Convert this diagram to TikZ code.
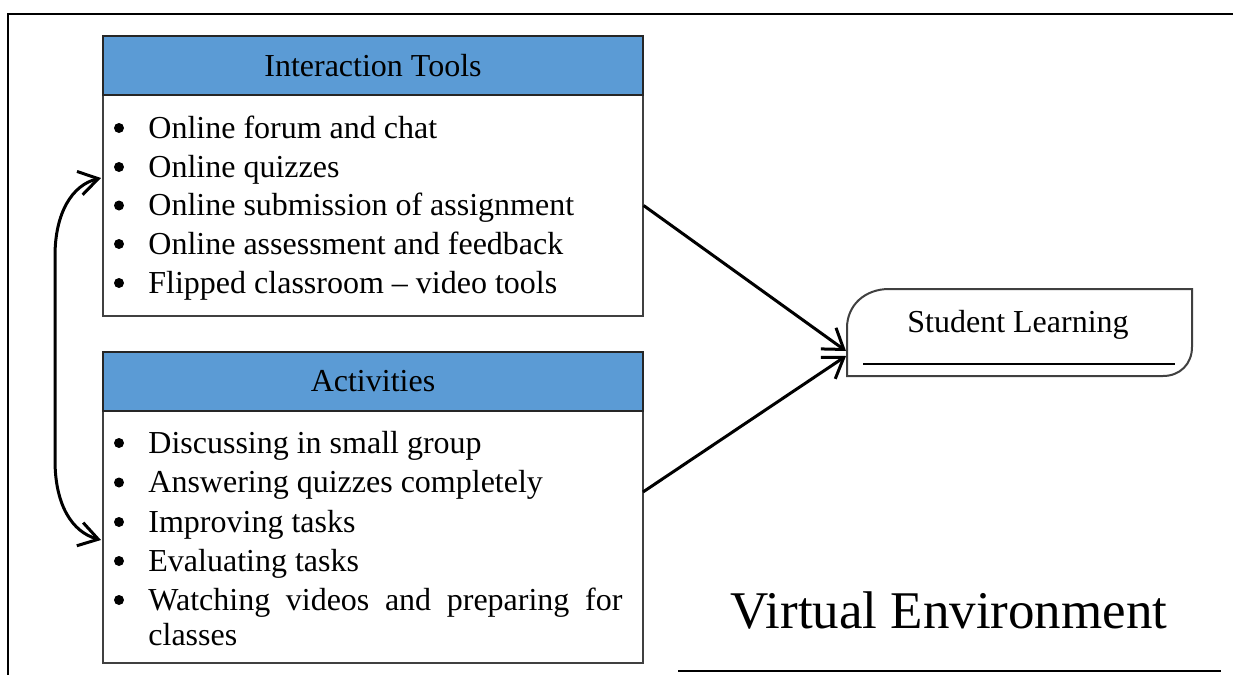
\documentclass[tikz,border=0pt]{standalone}
\usepackage{fontspec}
\setmainfont{Liberation Serif}
\usetikzlibrary{arrows.meta}
\definecolor{hdrblue}{RGB}{91,155,213}
\begin{document}
\begin{tikzpicture}[x=0.5pt,y=-0.5pt,
  txt/.style={font=\fontsize{16}{19}\selectfont, inner sep=0pt},
  itemtext/.style={txt, anchor=base west},
  bul/.style={circle, fill=black, inner sep=0pt, minimum size=5pt},
  hdrbox/.style={draw=black!85, line width=0.7pt, fill=hdrblue, minimum width=270pt, minimum height=29.5pt, inner sep=0pt, txt},
  bodybox/.style={draw=black!75, line width=0.6pt, minimum width=270pt, inner sep=0pt},
  flow/.style={line width=1.5pt, -{Straight Barb[length=9.5pt,width=13pt]}},
  frameline/.style={line width=1pt},
  slshape/.style={draw=black!75, line width=1pt, fill=white}
]
\useasboundingbox (0,0) rectangle (1233,675);

% outer frame
\draw[frameline] (8,675) -- (8,14) -- (1233,14);

% boxes
\node[bodybox, minimum height=110.5pt] (body1) at (373,205.5) {};
\node[hdrbox] (hdr1) at (373,65.5) {Interaction Tools};
\node[bodybox, minimum height=126pt] (body2) at (373,537) {};
\node[hdrbox] (hdr2) at (373,381.5) {Activities};

% interaction items
\foreach \yy/\tt [count=\i] in {138/Online forum and chat, 177/Online quizzes, 215.5/Online submission of assignment, 254/Online assessment and feedback, 293/Flipped classroom -- video tools}{
  \node[bul] (ib\i) at (119,\yy-10) {};
  \node[itemtext] (it\i) at (148,\yy) {\tt};
}
% activity items
\foreach \yy/\tt [count=\i] in {453/Discussing in small group, 492.5/Answering quizzes completely, 532/Improving tasks, 571/Evaluating tasks}{
  \node[bul] (ab\i) at (119,\yy-10) {};
  \node[itemtext] (at\i) at (148,\yy) {\tt};
}
\node[bul] (ab5) at (119,600) {};
\node[itemtext] (at5) at (148,610) {\makebox[237pt][s]{Watching videos and preparing for}};
\node[itemtext] (at6) at (148,645) {classes};

% student learning
\draw[slshape] (847,376) -- (847,328) .. controls (847,305) and (865,289) .. (889,289)
  -- (1192,289) -- (1192,347) .. controls (1192,364) and (1180,376) .. (1163,376) -- cycle;
\draw[line width=1pt] (863,364) -- (1175,364);
\node[txt, anchor=base] (sl) at (1018,332) {Student Learning};
\coordinate (slin1) at (846,351);
\coordinate (slin2) at (846,356);

% virtual environment
\node[inner sep=0pt, anchor=base, font=\fontsize{26.5}{30}\selectfont] (ve) at (949,628) {Virtual Environment};
\draw[line width=1pt] (678,671) -- (1221,671);

% flows
\coordinate (a1out) at (body1.east);
\coordinate (a2out) at (643,492);
\draw[flow] (a1out) -- (slin1);
\draw[flow] (a2out) -- (slin2);

% curved double arrow
\coordinate (ca1) at (101,178);
\coordinate (ca2) at (101,540);
\draw[line width=1.5pt, {Straight Barb[length=9.5pt,width=12pt]}-{Straight Barb[length=9.5pt,width=12pt]}]
  (ca1) .. controls (72,185) and (55,213) .. (55,256) -- (55,460) .. controls (55,505) and (72,532) .. (ca2);
\end{tikzpicture}
\end{document}
